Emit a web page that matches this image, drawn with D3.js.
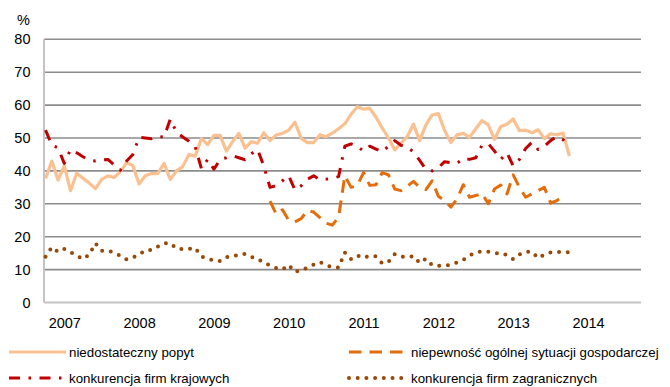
<!DOCTYPE html>
<html>
<head>
<meta charset="utf-8">
<script src="https://cdn.jsdelivr.net/npm/d3@7"></script>
<style>
  html, body { margin: 0; padding: 0; background: #fff; }
  svg { display: block; }
  text { font-family: "Liberation Sans", Arial, sans-serif; fill: #000; }
</style>
</head>
<body>
<svg id="chart" width="670" height="387"></svg>
<script>
// Monthly survey readings, October 2006 – October 2013 (share of firms, %)
const startMonth = new Date(2006, 9, 1);
const months = d3.timeMonth.range(startMonth, new Date(2013, 10, 1));

const popyt = [
  37.7, 43, 37.2, 41.5, 34, 39.3, 37.8, 36.3, 34.6, 37.4,
  38.5, 38, 39.8, 42.5, 41.6, 36, 38.5, 39.2, 39.2, 42.3,
  37.4, 40, 41.3, 45, 44.5, 49.8, 48, 50.8, 50.8, 46,
  48.9, 51.4, 46.9, 48.9, 48.4, 51.6, 49.2, 50.9, 51.4, 52.4,
  54.8, 49.9, 48.6, 48.6, 51, 50.4, 51.5, 52.8, 54.3, 57.2,
  59.5, 58.8, 59, 56.3, 53, 50, 46.4, 48.4, 50.4, 54.2,
  49.2, 54, 57, 57.4, 52.3, 48.6, 51, 51.4, 50.2, 52.8,
  55.3, 54, 49.6, 53.5, 54.2, 55.8, 52.2, 52.4, 51.6, 52.5,
  49.8, 51.3, 51, 51.5, 44.5
];

const niepewnosc = [
  null, null, null, null, null, null, null, null, null, null,
  null, null, null, null, null, null, null, null, null, null,
  null, null, null, null, null, null, null, null, null, null,
  null, null, null, null, null, null, 30.8, 26.8, 28.2, 25,
  24.5, 25.5, 28, 27.5, 25.8, 24.1, 23.5, 26, 38.5, 35,
  35.5, 39.5, 35.6, 35.8, 39.5, 38.8, 34.5, 34, 35.3, 36.8,
  35, 34.3, 37, 32.3, 31, 29, 31.5, 35.8, 32, 32.5,
  33.2, 30, 34.5, 35.7, 33, 38.8, 35, 32, 33, 34,
  35, 30.2, 31, 32.2, null
];

const krajowe = [
  52.4, 47.8, 47, 42.3, 46.5, 45.5, 44.3, 43.3, 43, 43.3,
  43.5, 41.8, 40.2, 43, 45, 50.2, 50, 49.8, 50.5, 50.3,
  55.7, 51.8, 50.3, 49, 47.3, 40.7, 43.5, 40.5, 43.5, 44,
  44.6, 44, 43.4, 45.2, 46.5, 41.5, 35, 35.5, 37, 38.5,
  34.2, 35.5, 37.5, 38.5, 37.3, 37.5, 37.7, 38.3, 47.5, 48.2,
  47.5, 46, 47.5, 46.6, 45.8, 47.5, 49.2, 47.8, 47.2, 45.8,
  43.2, 40.5, 40, 41, 42.8, 42.5, 42.3, 43.8, 43.5, 44,
  47.8, 48.3, 46, 43.5, 45.5, 41.5, 43.5, 46.8, 48.7, 46.5,
  47.5, 49.2, 50.4, 49.5, 47.5
];

const zagraniczne = [
  13.9, 16.8, 15.4, 16.3, 15.3, 14.3, 13.2, 14.5, 18, 15.7,
  15.7, 15.2, 14.2, 13.1, 13.6, 14.6, 15.8, 16, 17, 18,
  18, 16.4, 16.2, 16.3, 16.6, 14, 13.3, 12.8, 12.6, 13.8,
  14, 14.5, 14.8, 13.9, 13.2, 12.2, 11.2, 10.5, 10, 11.4,
  9.3, 9.8, 10.6, 11.5, 12.3, 11.4, 10.7, 10.6, 15.2, 13.2,
  14.3, 13.6, 14.2, 14, 11.9, 12.4, 14.7, 14, 13.8, 14.1,
  12, 13.3, 11.4, 11.2, 11.2, 11.5, 12.2, 13, 14.3, 15.1,
  15.6, 15.4, 15, 15, 14.4, 13.2, 14.6, 15.4, 15.4, 13.5,
  14.6, 15.2, 15.4, 15.3, 15.3
];

const seriesNames = [
  "niedostateczny popyt",
  "niepewność ogólnej sytuacji gospodarczej",
  "konkurencja firm krajowych",
  "konkurencja firm zagranicznych"
];
const yearLabels = ["2007", "2008", "2009", "2010", "2011", "2012", "2013", "2014"];
const yTicks = [0, 10, 20, 30, 40, 50, 60, 70, 80];

// Series styling
const styles = [
  { data: popyt,       color: "#FAC090", width: 3.2, dash: null,            cap: "butt"  },
  { data: niepewnosc,  color: "#E46C0A", width: 3,   dash: "12.5,8",        cap: "butt"  },
  { data: krajowe,     color: "#C00000", width: 3,   dash: "11,8.5,2.5,8.5", cap: "butt"  },
  { data: zagraniczne, color: "#984807", width: 4,   dash: "0,8.7",         cap: "round" }
];

const svg = d3.select("#chart");

// Month index 0 = Oct 2006; the axis spans Oct 2006 – Sep 2014
const x = d3.scaleLinear().domain([-0.25, 95.5]).range([44, 641]);
const y = d3.scaleLinear().domain([0, 80]).range([302.5, 39.3]);

const monthIndex = d => d3.timeMonth.count(startMonth, d);
const yearTickIdx = yearLabels.map(l => monthIndex(new Date(+l, 0, 1)));

// Horizontal gridlines
svg.append("g")
  .selectAll("line")
  .data(yTicks.filter(v => v > 0))
  .join("line")
  .attr("x1", x.range()[0]).attr("x2", x.range()[1])
  .attr("y1", d => y(d)).attr("y2", d => y(d))
  .attr("stroke", "#8c8c8c")
  .attr("stroke-width", 1.6);

// Axis lines
svg.append("line")
  .attr("x1", x.range()[0]).attr("x2", x.range()[1])
  .attr("y1", y(0)).attr("y2", y(0))
  .attr("stroke", "#c4c4c4").attr("stroke-width", 2);
svg.append("line")
  .attr("x1", x.range()[0]).attr("x2", x.range()[0])
  .attr("y1", y(80)).attr("y2", y(0))
  .attr("stroke", "#c4c4c4").attr("stroke-width", 2);

// Y axis labels
const yAxis = svg.append("g")
  .attr("transform", `translate(${x.range()[0]},0)`)
  .call(d3.axisLeft(y).tickValues(yTicks).tickSize(0).tickPadding(13.5).tickFormat(d3.format("d")));
yAxis.select(".domain").remove();
yAxis.selectAll("text")
  .attr("font-size", 14.5)
  .attr("font-family", "Liberation Sans, Arial, sans-serif")
  .attr("fill", "#000");

// X axis labels
const xAxis = svg.append("g")
  .attr("transform", `translate(0,${y(0)})`)
  .call(d3.axisBottom(x).tickValues(yearTickIdx).tickSize(0).tickPadding(15.4)
    .tickFormat((d, i) => yearLabels[i]));
xAxis.select(".domain").remove();
xAxis.selectAll("text")
  .attr("font-size", 14.5)
  .attr("font-family", "Liberation Sans, Arial, sans-serif")
  .attr("fill", "#000");

// Unit label
svg.append("text")
  .attr("x", 17).attr("y", 25)
  .attr("font-size", 14.5)
  .text("%");

// Series lines
const line = d3.line()
  .defined(d => d != null)
  .x((d, i) => x(i))
  .y(d => y(d));

const lineFor = (data) => d3.line()
  .defined(d => d.v != null)
  .x(d => x(d.i))
  .y(d => y(d.v))(data.map((v, i) => ({ i: monthIndex(months[i]), v })));

svg.append("g")
  .selectAll("path")
  .data(styles)
  .join("path")
  .attr("d", s => lineFor(s.data))
  .attr("fill", "none")
  .attr("stroke", s => s.color)
  .attr("stroke-width", s => s.width)
  .attr("stroke-dasharray", s => s.dash)
  .attr("stroke-linecap", s => s.cap)
  .attr("stroke-linejoin", "round");

// Legend (two columns, two rows)
const legendPos = [
  { lx: 9,   tx: 69,  ly: 352 },
  { lx: 349, tx: 411, ly: 352 },
  { lx: 9,   tx: 69,  ly: 378 },
  { lx: 349, tx: 411, ly: 378 }
];
const legend = svg.append("g");
styles.forEach((s, k) => {
  const p = legendPos[k];
  legend.append("line")
    .attr("x1", p.lx).attr("x2", p.lx + 57)
    .attr("y1", p.ly).attr("y2", p.ly)
    .attr("stroke", s.color)
    .attr("stroke-width", s.width)
    .attr("stroke-dasharray", s.dash)
    .attr("stroke-linecap", s.cap);
  legend.append("text")
    .attr("x", p.tx).attr("y", p.ly)
    .attr("dy", "0.35em")
    .attr("font-size", 13.3)
    .text(seriesNames[k]);
});
</script>
</body>
</html>
